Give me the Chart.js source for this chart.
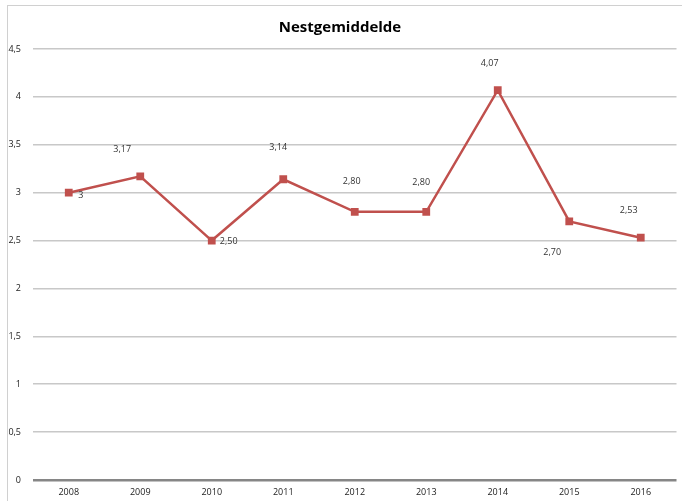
<!DOCTYPE html>
<html>
<head>
<meta charset="utf-8">
<script src="https://cdn.jsdelivr.net/npm/chart.js@4"></script>
<style>
    html, body { margin: 0; padding: 0; background: #fff; }
    #wrap { position: relative; width: 682px; height: 501px; }
    #frame { position: absolute; left: 7px; top: 5px; right: -2px; bottom: -2px; border-left: 1px solid #d0d0d0; border-top: 1px solid #d0d0d0; }
    canvas { position: absolute; left: 0; top: 0; }
</style>
</head>
<body>
<div id="wrap">
    <div id="frame"></div>
    <canvas id="chart" width="682" height="501"></canvas>
</div>
<script>
const years = ['2008', '2009', '2010', '2011', '2012', '2013', '2014', '2015', '2016'];
const nestValues = [3, 3.17, 2.50, 3.14, 2.80, 2.80, 4.07, 2.70, 2.53];
const valueLabels = ['3', '3,17', '2,50', '3,14', '2,80', '2,80', '4,07', '2,70', '2,53'];
const yTicks = [0, 0.5, 1, 1.5, 2, 2.5, 3, 3.5, 4, 4.5];

// label placement relative to each point (dx, dy in px)
const labelOffsets = [[12, 3], [-18, -27], [17, 1], [-5, -32], [-3, -30], [-5, -29], [-8, -27], [-17, 31], [-12, -27]];

const FONT = '"Open Sans", "Liberation Sans", sans-serif';

const pointLabels = {
    id: 'pointLabels',
    afterDatasetsDraw(chart) {
        const ctx = chart.ctx;
        const meta = chart.getDatasetMeta(0);
        ctx.save();
        ctx.font = '9px ' + FONT;
        ctx.fillStyle = '#333';
        ctx.textAlign = 'center';
        ctx.textBaseline = 'middle';
        meta.data.forEach((pt, i) => {
            const [dx, dy] = labelOffsets[i];
            ctx.fillText(valueLabels[i], pt.x + dx, pt.y + dy);
        });
        ctx.restore();
    }
};

new Chart(document.getElementById('chart'), {
    type: 'line',
    data: {
        labels: years,
        datasets: [{
            data: nestValues,
            borderColor: '#C0504D',
            backgroundColor: '#C0504D',
            borderWidth: 2.5,
            pointStyle: 'rect',
            pointRadius: 5.5,
            pointBorderWidth: 0,
            tension: 0
        }]
    },
    options: {
        responsive: false,
        animation: false,
        layout: { padding: { left: 0, right: 2, top: 0, bottom: 1 } },
        plugins: {
            legend: { display: false },
            tooltip: { enabled: false },
            title: {
                display: true,
                text: 'Nestgemiddelde',
                color: '#000',
                font: { family: FONT, size: 15, weight: 'bold' },
                padding: { top: 19, bottom: 12 }
            }
        },
        scales: {
            x: {
                offset: true,
                afterFit: axis => { axis.height = 20; },
                grid: { display: false, drawTicks: false },
                border: { display: false },
                ticks: { color: '#222', font: { family: FONT, size: 9 }, padding: 7 }
            },
            y: {
                min: 0,
                max: 4.5,
                afterBuildTicks: axis => { axis.ticks = yTicks.map(v => ({ value: v })); },
                afterFit: axis => { axis.width = 33; },
                border: { display: false },
                grid: {
                    drawTicks: false,
                    color: c => c.tick.value === 0 ? '#868686' : '#c8c8c8',
                    lineWidth: c => c.tick.value === 0 ? 2.5 : 1.5
                },
                ticks: {
                    color: '#222',
                    font: { family: FONT, size: 9 },
                    padding: 12,
                    callback: v => String(v).replace('.', ',')
                }
            }
        }
    },
    plugins: [pointLabels]
});
</script>
</body>
</html>
